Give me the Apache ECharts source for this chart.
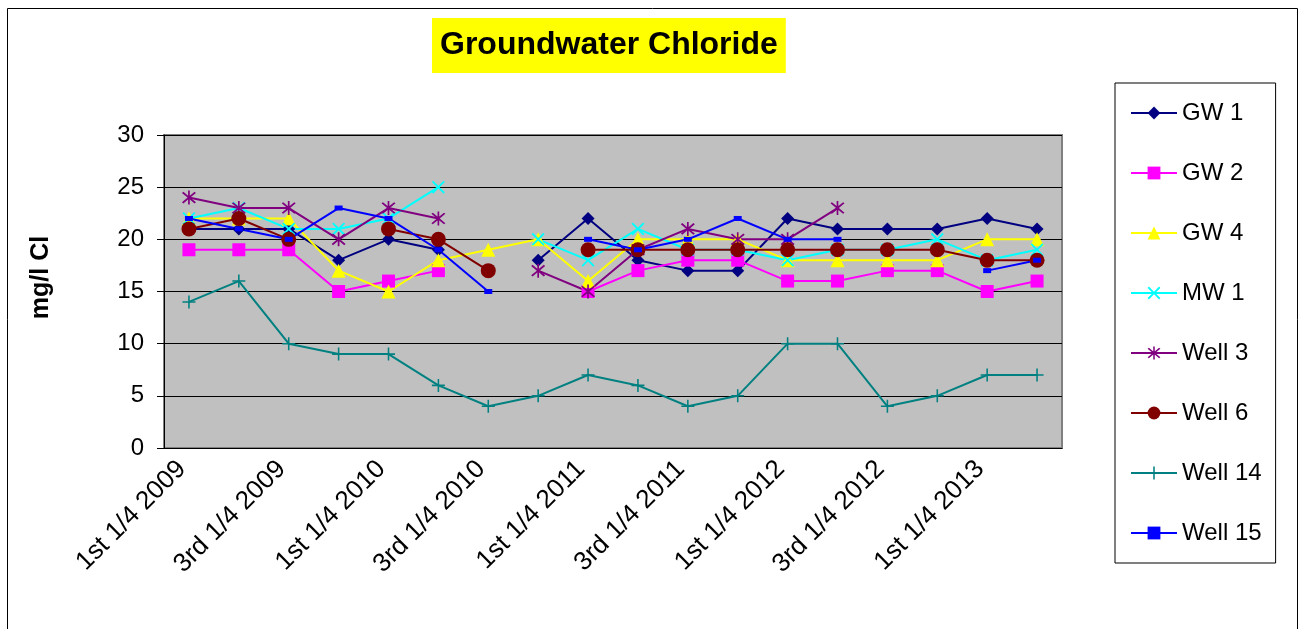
<!DOCTYPE html>
<html>
<head>
<meta charset="utf-8">
<title>Groundwater Chloride</title>
<script src="https://cdn.jsdelivr.net/npm/echarts@6/dist/echarts.min.js"></script>
<style>
    html, body { margin: 0; padding: 0; background: #fff; }
    #main { width: 1299px; height: 629px; }
</style>
</head>
<body>
<div id="main"></div>
<script>
// quarters on the x axis
var quarters = [
    '1st 1/4 2009', '2nd 1/4 2009', '3rd 1/4 2009', '4th 1/4 2009',
    '1st 1/4 2010', '2nd 1/4 2010', '3rd 1/4 2010', '4th 1/4 2010',
    '1st 1/4 2011', '2nd 1/4 2011', '3rd 1/4 2011', '4th 1/4 2011',
    '1st 1/4 2012', '2nd 1/4 2012', '3rd 1/4 2012', '4th 1/4 2012',
    '1st 1/4 2013', '2nd 1/4 2013'
];

// y axis ticks
var yMin = 0, yMax = 30, yStep = 5;

// chloride, mg/l (null = not sampled)
var gw1 = [21, 21, 21, 18, 20, 19, null, 18, 22, 18, 17, 17, 22, 21, 21, 21, 22, 21];
var gw2 = [19, 19, 19, 15, 16, 17, null, null, 15, 17, 18, 18, 16, 16, 17, 17, 15, 16];
var gw4 = [22, 22, 22, 17, 15, 18, 19, 20, 16, 20, 20, 20, 18, 18, 18, 18, 20, 20];
var mw1 = [22, 23, 21, 21, 22, 25, null, 20, 18, 21, 19, 19, 18, 19, 19, 20, 18, 19];
var well3 = [24, 23, 23, 20, 23, 22, null, 17, 15, 19, 21, 20, 20, 23, null, null, null, null];
var well6 = [21, 22, 20, null, 21, 20, 17, null, 19, 19, 19, 19, 19, 19, 19, 19, 18, 18];
var well14 = [14, 16, 10, 9, 9, 6, 4, 5, 7, 6, 4, 5, 10, 10, 4, 5, 7, 7];
var well15 = [22, 21, 20, 23, 22, 19, 15, null, 20, 19, 20, 22, 20, 20, null, null, 17, 18];

// excel style marker shapes
var crossPath = 'path://M0,1 L1,0 L5,4 L9,0 L10,1 L6,5 L10,9 L9,10 L5,6 L1,10 L0,9 L4,5 Z';
var starPath = 'path://M0,1 L1,0 L5,4 L9,0 L10,1 L6,5 L10,9 L9,10 L5,6 L1,10 L0,9 L4,5 Z M4.4,-1 L5.6,-1 L5.6,11 L4.4,11 Z';
var plusPath = 'path://M4.4,0 L5.6,0 L5.6,4.4 L10,4.4 L10,5.6 L5.6,5.6 L5.6,10 L4.4,10 L4.4,5.6 L0,5.6 L0,4.4 L4.4,4.4 Z';

var font = "'Liberation Sans', Arial, sans-serif";

function makeLine(name, data, color, symbol, size) {
    return {
        name: name,
        type: 'line',
        data: data,
        symbol: symbol,
        symbolSize: size,
        showAllSymbol: true,
        connectNulls: false,
        animation: false,
        lineStyle: { color: color, width: 2 },
        itemStyle: { color: color },
        emphasis: { disabled: true }
    };
}

var chart = echarts.init(document.getElementById('main'));

chart.setOption({
    backgroundColor: '#fff',
    textStyle: { fontFamily: font },
    title: {
        text: 'Groundwater Chloride',
        left: 432,
        top: 18,
        padding: [10, 8, 10, 8],
        backgroundColor: '#FFFF00',
        textStyle: {
            fontFamily: font,
            fontSize: 32,
            fontWeight: 'bold',
            color: '#000',
            lineHeight: 35
        }
    },
    legend: {
        orient: 'vertical',
        left: 1115,
        top: 83,
        padding: [18, 14, 18, 15],
        itemWidth: 46,
        itemHeight: 16,
        itemGap: 36,
        borderColor: '#000',
        borderWidth: 1,
        selectedMode: false,
        textStyle: { fontFamily: font, fontSize: 24, color: '#000', lineHeight: 24 }
    },
    grid: {
        left: 164,
        right: 237,
        top: 135,
        bottom: 181,
        show: true,
        backgroundColor: '#C0C0C0',
        borderColor: '#808080',
        borderWidth: 2,
        outerBoundsMode: 'none'
    },
    xAxis: {
        type: 'category',
        data: quarters,
        boundaryGap: true,
        axisLine: { lineStyle: { color: '#000', width: 1 } },
        axisTick: { interval: 0, length: 7, lineStyle: { color: '#000' } },
        axisLabel: {
            interval: 1,
            rotate: 45,
            margin: 10,
            padding: [0, 10, 0, 0],
            fontSize: 26,
            color: '#000',
            fontFamily: font
        }
    },
    yAxis: {
        type: 'value',
        min: yMin,
        max: yMax,
        interval: yStep,
        name: 'mg/l Cl',
        nameLocation: 'middle',
        nameGap: 110,
        nameRotate: 90,
        nameTextStyle: {
            fontFamily: font,
            fontSize: 25,
            fontWeight: 'bold',
            color: '#000',
            padding: [0, 0, 0, 28]
        },
        axisLine: { show: true, lineStyle: { color: '#000', width: 1 } },
        axisTick: { show: true, length: 7, lineStyle: { color: '#000' } },
        axisLabel: { fontSize: 24, color: '#000', margin: 20, fontFamily: font },
        splitLine: { lineStyle: { color: '#000', width: 1 } }
    },
    graphic: [{
        type: 'rect',
        silent: true,
        shape: { x: 7.5, y: 8.5, width: 1290, height: 625 },
        style: { fill: 'none', stroke: '#000', lineWidth: 1 }
    }],
    series: [
        makeLine('GW 1', gw1, '#000080', 'diamond', 13),
        makeLine('GW 2', gw2, '#FF00FF', 'rect', 13),
        makeLine('GW 4', gw4, '#FFFF00', 'triangle', 14),
        makeLine('MW 1', mw1, '#00FFFF', crossPath, 13),
        makeLine('Well 3', well3, '#800080', starPath, 14),
        makeLine('Well 6', well6, '#800000', 'circle', 15),
        makeLine('Well 14', well14, '#008080', plusPath, 13),
        makeLine('Well 15', well15, '#0000FF', 'rect', [8, 5])
    ]
});
</script>
</body>
</html>
